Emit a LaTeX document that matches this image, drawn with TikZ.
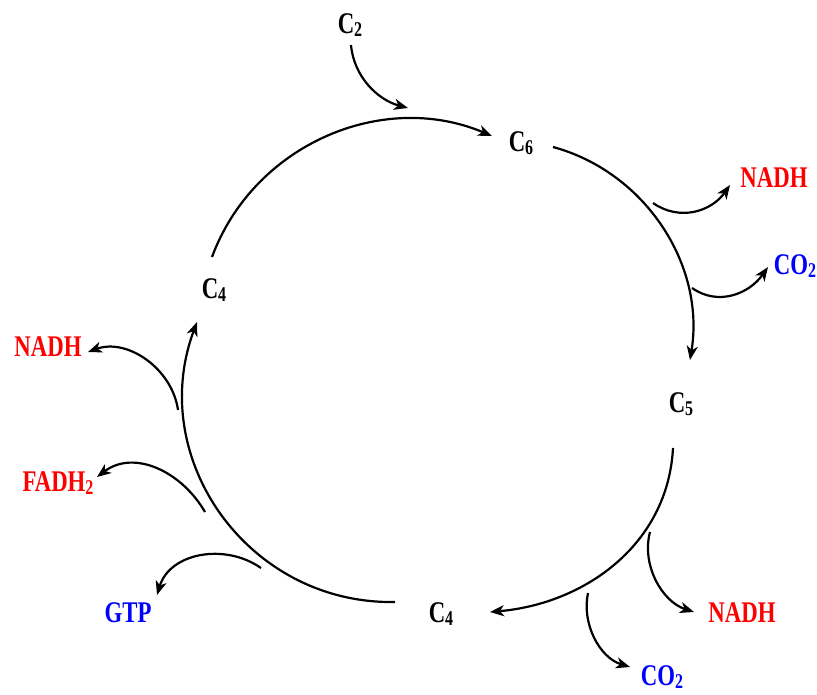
\documentclass[tikz,border=0pt]{standalone}
\usepackage{fontspec}
\setmainfont{Liberation Serif}[FakeStretch=0.76]
\usetikzlibrary{arrows.meta}
\definecolor{nred}{RGB}{255,0,0}
\definecolor{nblue}{RGB}{0,0,255}
\newcommand\lsub[1]{\raisebox{-3pt}{\fontsize{21}{21}\selectfont #1}}
\begin{document}
\begin{tikzpicture}[x=1pt,y=1pt,
  lab/.style={font=\bfseries\fontsize{30}{30}\selectfont, inner sep=0pt},
  conn/.style={line width=2.2pt, -{Stealth[length=14pt,width=11pt,inset=4pt]}}]
\path[use as bounding box] (0,0) rectangle (817,694);
% labels
\node[lab] (c2) at (350,669) {C\lsub{2}};
\node[lab] (c6) at (521,551) {C\lsub{6}};
\node[lab] (c5) at (681,290) {C\lsub{5}};
\node[lab] (c4b) at (441,80) {C\lsub{4}};
\node[lab] (c4a) at (214,404) {C\lsub{4}};
\node[lab,text=nred] (nadh1) at (774,516) {NADH};
\node[lab,text=nblue] (co21) at (795,428) {CO\lsub{2}};
\node[lab,text=nred] (nadh2) at (48,347) {NADH};
\node[lab,text=nred] (fadh) at (58,211) {FADH\lsub{2}};
\node[lab,text=nblue] (gtp) at (128,81) {GTP};
\node[lab,text=nred] (nadh3) at (742,81) {NADH};
\node[lab,text=nblue] (co22) at (662,17) {CO\lsub{2}};
% cycle end points
\coordinate (s1) at (212,437); \coordinate (e1) at (492,558);
\coordinate (s2) at (553,547); \coordinate (e2) at (690,334);
\coordinate (s3) at (673,246); \coordinate (e3) at (490,82);
\coordinate (s4) at (395,92);  \coordinate (e4) at (197,372);
% cycle
\draw[conn] (s1) to[out=69.7,in=157.1,looseness=1.0] (e1);
\draw[conn] (s2) to[out=-15.2,in=80.7,looseness=0.97] (e2);
\draw[conn] (s3) to[out=-93,in=5,looseness=1.0] (e3);
\draw[conn] (s4) to[out=181,in=249.6,looseness=1.09] (e4);
% side arrows
\coordinate (a1) at (351,649); \coordinate (b1) at (408,586);
\coordinate (a2) at (653,491); \coordinate (b2) at (730,509);
\coordinate (a3) at (692,406); \coordinate (b3) at (768,427);
\coordinate (a4) at (178,284); \coordinate (b4) at (88,342);
\coordinate (a5) at (205,182); \coordinate (b5) at (97,217);
\coordinate (a6) at (261,126); \coordinate (b6) at (157,99);
\coordinate (a7) at (650,162); \coordinate (b7) at (694,82);
\coordinate (a8) at (588,101); \coordinate (b8) at (630,27);
\draw[conn] (a1) to[out=-85,in=165,looseness=0.95] (b1);
\draw[conn] (a2) to[out=-35,in=235,looseness=1.05] (b2);
\draw[conn] (a3) to[out=-35,in=235,looseness=1.05] (b3);
\draw[conn] (a4) to[out=98,in=20,looseness=1.0] (b4);
\draw[conn] (a5) to[out=120,in=37,looseness=1.05] (b5);
\draw[conn] (a6) to[out=145,in=73,looseness=1.05] (b6);
\draw[conn] (a7) to[out=255,in=162,looseness=0.95] (b7);
\draw[conn] (a8) to[out=258,in=163,looseness=0.95] (b8);
\end{tikzpicture}
\end{document}
